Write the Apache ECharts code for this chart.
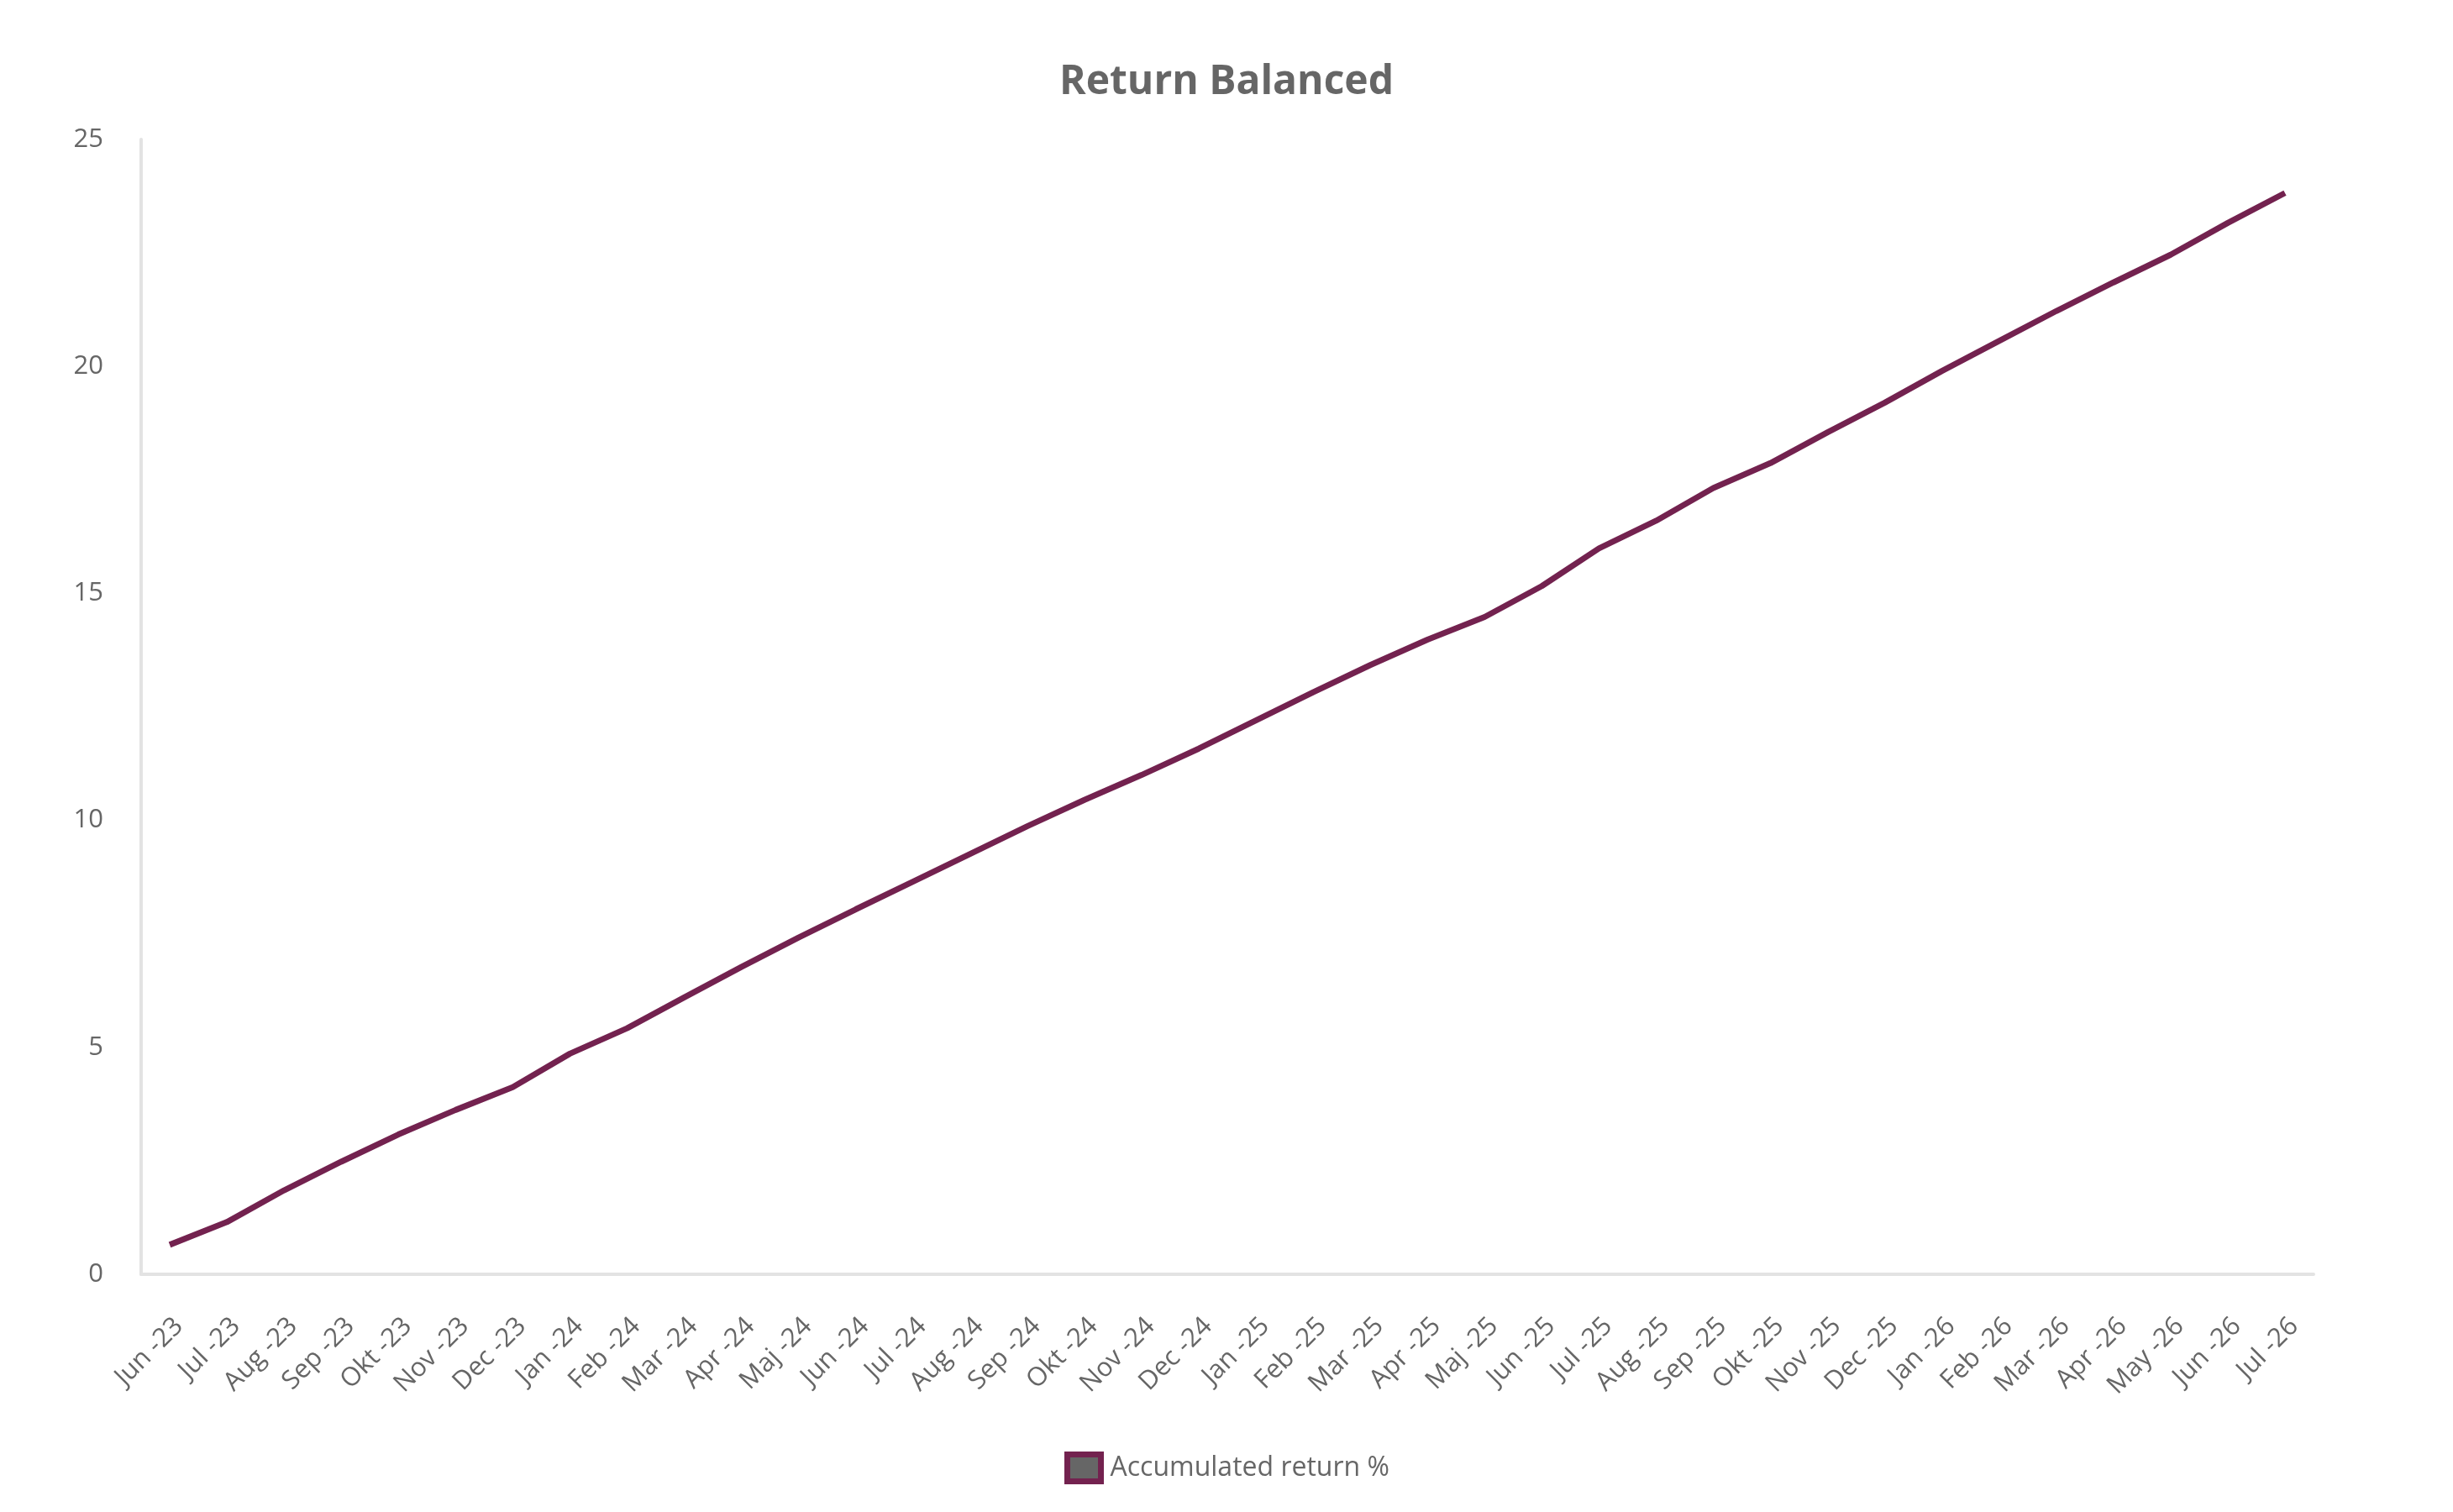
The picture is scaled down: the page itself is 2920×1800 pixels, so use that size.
<!DOCTYPE html>
<html>
<head>
<meta charset="utf-8">
<script src="https://cdn.jsdelivr.net/npm/echarts@6/dist/echarts.min.js"></script>
<style>
html,body{margin:0;padding:0;background:#fff;}
#chart{width:2920px;height:1800px;}
</style>
</head>
<body>
<div id="chart"></div>
<script>
var chartTitle = 'Return Balanced';
var seriesName = 'Accumulated return %';
var categories = ['Jun -23','Jul -23','Aug -23','Sep -23','Okt -23','Nov -23','Dec -23',
  'Jan -24','Feb -24','Mar -24','Apr -24','Maj -24','Jun -24','Jul -24','Aug -24','Sep -24','Okt -24','Nov -24','Dec -24',
  'Jan -25','Feb -25','Mar -25','Apr -25','Maj -25','Jun -25','Jul -25','Aug -25','Sep -25','Okt -25','Nov -25','Dec -25',
  'Jan -26','Feb -26','Mar -26','Apr -26','May -26','Jun -26','Jul -26'];
var returns = [0.65,1.15,1.85,2.48,3.08,3.62,4.12,
  4.86,5.42,6.10,6.77,7.42,8.04,8.65,9.26,9.87,10.45,11.00,11.58,
  12.20,12.82,13.42,13.98,14.48,15.16,15.99,16.60,17.32,17.87,18.55,19.20,
  19.90,20.56,21.22,21.85,22.46,23.16,23.82];
var yMin = 0, yMax = 25, yStep = 5;

var chart = echarts.init(document.getElementById('chart'));
var font = '"Open Sans", "Noto Sans", sans-serif';
chart.setOption({
  backgroundColor: '#ffffff',
  animation: false,
  title: {
    text: chartTitle,
    left: 'center',
    top: 69,
    textStyle: { fontFamily: font, fontSize: 48, fontWeight: 'bold', color: '#666666' }
  },
  legend: {
    data: [seriesName],
    left: 1262,
    top: 1723,
    icon: 'rect',
    itemWidth: 40,
    itemHeight: 32,
    itemGap: 10,
    textStyle: { fontFamily: font, fontSize: 32, color: '#666666', padding: [0, 0, 0, 6] },
    itemStyle: { color: '#666666', borderColor: '#73224f', borderWidth: 7 }
  },
  grid: { left: 168, right: 166, top: 166, bottom: 283, containLabel: false },
  xAxis: {
    type: 'category',
    data: categories,
    boundaryGap: true,
    axisLine: { show: true, lineStyle: { color: '#e3e3e3', width: 4 } },
    axisTick: { show: false },
    axisLabel: { rotate: 45, margin: 46, interval: 0, verticalAlign: 'top', fontFamily: font, fontSize: 31, color: '#666666' },
    splitLine: { show: false }
  },
  yAxis: {
    type: 'value',
    min: yMin, max: yMax, interval: yStep,
    axisLine: { show: true, lineStyle: { color: '#e3e3e3', width: 4 } },
    axisTick: { show: false },
    axisLabel: { margin: 45, fontFamily: font, fontSize: 31, color: '#666666' },
    splitLine: { show: false }
  },
  series: [{
    name: seriesName,
    type: 'line',
    data: returns,
    showSymbol: false,
    symbol: 'none',
    smooth: false,
    lineStyle: { color: '#73224f', width: 7 },
    itemStyle: { color: '#666666', borderColor: '#73224f', borderWidth: 7 }
  }]
});
</script>
</body>
</html>
